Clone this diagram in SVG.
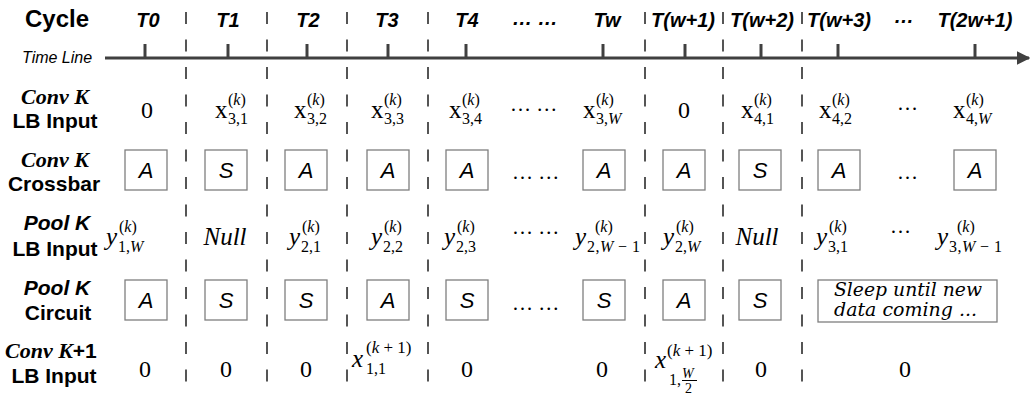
<svg xmlns="http://www.w3.org/2000/svg" width="1031" height="397" viewBox="0 0 1031 397">
<style>
.lbs{font:bold 21px "Liberation Sans",Arial,sans-serif;text-anchor:middle}
.lbi{font:bold italic 22px "Liberation Serif","Times New Roman",serif}
.pk{font:bold italic 21px "Liberation Sans",Arial,sans-serif;text-anchor:middle}
.hd{font:bold italic 20px "Liberation Sans",Arial,sans-serif;text-anchor:middle}
.m{font:25px "Liberation Serif","Times New Roman",serif}
.mc{font:24px "Liberation Serif","Times New Roman",serif;text-anchor:middle}
.mi{font:italic 25px "Liberation Serif","Times New Roman",serif}
.nl{font:italic 25px "Liberation Serif","Times New Roman",serif;text-anchor:middle}
.s{font:16px "Liberation Serif","Times New Roman",serif}
.it{font-style:italic}
.dt{font:21px "Liberation Serif","Times New Roman",serif}
.box{fill:#fff;stroke:#7f7f7f;stroke-width:1.3}
.bl{font:italic 22px "Liberation Sans",Arial,sans-serif;text-anchor:middle}
.dash{stroke:#555;stroke-width:2;stroke-dasharray:12 15.5;fill:none}
.tl{stroke:#404040;stroke-width:3;fill:none}
.slp{font:italic 18px "DejaVu Serif",serif}
</style>
<defs>
<marker id="arr" viewBox="0 0 10 10" refX="9" refY="5" markerWidth="4.5" markerHeight="4.5" orient="auto" markerUnits="strokeWidth">
<path d="M0,0 L10,5 L0,10 z" fill="#404040"/>
</marker>
</defs>
<rect width="1031" height="397" fill="#fff"/>

<g id="connectors">
<line class="tl" x1="105" y1="58" x2="1029" y2="58" marker-end="url(#arr)"/>
<g class="tl">
<line x1="145" y1="44" x2="145" y2="58"/><line x1="228" y1="44" x2="228" y2="58"/>
<line x1="307" y1="44" x2="307" y2="58"/><line x1="388" y1="44" x2="388" y2="58"/>
<line x1="466" y1="44" x2="466" y2="58"/><line x1="603" y1="44" x2="603" y2="58"/>
<line x1="685" y1="44" x2="685" y2="58"/><line x1="761" y1="44" x2="761" y2="58"/>
<line x1="838" y1="44" x2="838" y2="58"/><line x1="975" y1="44" x2="975" y2="58"/>
</g>
<line class="dash" x1="186" y1="12" x2="186" y2="397"/>
<line class="dash" x1="267" y1="12" x2="267" y2="385"/>
<line class="dash" x1="347" y1="12" x2="347" y2="385"/>
<line class="dash" x1="428" y1="12" x2="428" y2="385"/>
<line class="dash" x1="645" y1="12" x2="645" y2="385"/>
<line class="dash" x1="723" y1="12" x2="723" y2="385"/>
<line class="dash" x1="802" y1="12" x2="802" y2="385"/>
</g>

<g id="header">
<text x="25" y="27" style="font:bold 24px 'Liberation Sans',Arial,sans-serif">Cycle</text>
<text x="22" y="63" style="font:italic 16px 'Liberation Sans',Arial,sans-serif">Time Line</text>
<text class="hd" x="148" y="27">T0</text>
<text class="hd" x="228" y="27">T1</text>
<text class="hd" x="308" y="27">T2</text>
<text class="hd" x="387" y="27">T3</text>
<text class="hd" x="467" y="27">T4</text>
<text class="hd" x="535" y="25">… …</text>
<text class="hd" x="607" y="27">Tw</text>
<text class="hd" x="683" y="27">T(w+1)</text>
<text class="hd" x="762" y="27">T(w+2)</text>
<text class="hd" x="839" y="27">T(w+3)</text>
<text class="hd" x="904" y="23">…</text>
<text class="hd" x="975" y="27">T(2w+1)</text>
</g>

<g id="row-labels">
<g id="lbl-conv-lb"><text class="lbi" x="21" y="104">Conv K</text><text class="lbs" x="55" y="128">LB Input</text></g>
<g id="lbl-conv-xbar"><text class="lbi" x="21" y="167">Conv K</text><text class="lbs" x="54" y="191">Crossbar</text></g>
<g id="lbl-pool-lb"><text class="pk" x="57" y="230">Pool K</text><text class="lbs" x="55" y="256">LB Input</text></g>
<g id="lbl-pool-circ"><text class="pk" x="57" y="295">Pool K</text><text class="lbs" x="58" y="320">Circuit</text></g>
<g id="lbl-conv1-lb"><text x="5" y="358"><tspan class="lbi">Conv K</tspan><tspan style="font:bold 21px 'Liberation Sans',Arial,sans-serif">+1</tspan></text><text class="lbs" x="54" y="383">LB Input</text></g>
</g>

<g id="row1">
<text class="mc" x="147" y="118">0</text>
<g id="r1c1"><text class="m" x="215" y="118">x</text><text class="s" x="228" y="105">(<tspan class="it">k</tspan>)</text><text class="s" x="228" y="124">3,1</text></g>
<g id="r1c2"><text class="m" x="294" y="118">x</text><text class="s" x="307" y="105">(<tspan class="it">k</tspan>)</text><text class="s" x="307" y="124">3,2</text></g>
<g id="r1c3"><text class="m" x="371" y="118">x</text><text class="s" x="384" y="105">(<tspan class="it">k</tspan>)</text><text class="s" x="384" y="124">3,3</text></g>
<g id="r1c4"><text class="m" x="449" y="118">x</text><text class="s" x="462" y="105">(<tspan class="it">k</tspan>)</text><text class="s" x="462" y="124">3,4</text></g>
<text class="dt" x="510" y="111">… …</text>
<g id="r1cw"><text class="m" x="583" y="118">x</text><text class="s" x="596" y="105">(<tspan class="it">k</tspan>)</text><text class="s" x="596" y="124">3,<tspan class="it">W</tspan></text></g>
<text class="mc" x="684" y="118">0</text>
<g id="r1cw2"><text class="m" x="741" y="118">x</text><text class="s" x="754" y="105">(<tspan class="it">k</tspan>)</text><text class="s" x="754" y="124">4,1</text></g>
<g id="r1cw3"><text class="m" x="819" y="118">x</text><text class="s" x="832" y="105">(<tspan class="it">k</tspan>)</text><text class="s" x="832" y="124">4,2</text></g>
<text class="dt" x="897" y="110">…</text>
<g id="r1c2w"><text class="m" x="953" y="118">x</text><text class="s" x="966" y="105">(<tspan class="it">k</tspan>)</text><text class="s" x="966" y="124">4,<tspan class="it">W</tspan></text></g>
</g>

<g id="row2">
<g id="r2c0"><rect class="box" x="125" y="150" width="42" height="40"/><text class="bl" x="146" y="178">A</text></g>
<g id="r2c1"><rect class="box" x="205" y="150" width="42" height="40"/><text class="bl" x="226" y="178">S</text></g>
<g id="r2c2"><rect class="box" x="285" y="150" width="42" height="40"/><text class="bl" x="306" y="178">A</text></g>
<g id="r2c3"><rect class="box" x="367" y="150" width="42" height="40"/><text class="bl" x="388" y="178">A</text></g>
<g id="r2c4"><rect class="box" x="446" y="150" width="42" height="40"/><text class="bl" x="467" y="178">A</text></g>
<text class="dt" x="512" y="179">… …</text>
<g id="r2cw"><rect class="box" x="583" y="150" width="42" height="40"/><text class="bl" x="604" y="178">A</text></g>
<g id="r2cw1"><rect class="box" x="663" y="150" width="42" height="40"/><text class="bl" x="684" y="178">A</text></g>
<g id="r2cw2"><rect class="box" x="739" y="150" width="42" height="40"/><text class="bl" x="760" y="178">S</text></g>
<g id="r2cw3"><rect class="box" x="818" y="150" width="42" height="40"/><text class="bl" x="839" y="178">A</text></g>
<text class="dt" x="897" y="179">…</text>
<g id="r2c2w"><rect class="box" x="954" y="150" width="42" height="40"/><text class="bl" x="975" y="178">A</text></g>
</g>

<g id="row3">
<g id="r3c0"><text class="mi" x="106" y="245">y</text><text class="s" x="119" y="232">(<tspan class="it">k</tspan>)</text><text class="s" x="118" y="252">1,<tspan class="it">W</tspan></text></g>
<text class="nl" x="225" y="245">Null</text>
<g id="r3c2"><text class="mi" x="289" y="245">y</text><text class="s" x="302" y="232">(<tspan class="it">k</tspan>)</text><text class="s" x="301" y="252">2,1</text></g>
<g id="r3c3"><text class="mi" x="371" y="245">y</text><text class="s" x="384" y="232">(<tspan class="it">k</tspan>)</text><text class="s" x="383" y="252">2,2</text></g>
<g id="r3c4"><text class="mi" x="444" y="245">y</text><text class="s" x="457" y="232">(<tspan class="it">k</tspan>)</text><text class="s" x="456" y="252">2,3</text></g>
<text class="dt" x="512" y="234">… …</text>
<g id="r3cw"><text class="mi" x="575" y="245">y</text><text class="s" x="595" y="232">(<tspan class="it">k</tspan>)</text><text class="s" x="587" y="252" textLength="53" lengthAdjust="spacing">2,<tspan class="it">W</tspan> − 1</text></g>
<g id="r3cw1"><text class="mi" x="663" y="245">y</text><text class="s" x="676" y="232">(<tspan class="it">k</tspan>)</text><text class="s" x="675" y="252">2,<tspan class="it">W</tspan></text></g>
<text class="nl" x="757" y="245">Null</text>
<g id="r3cw3"><text class="mi" x="816" y="245">y</text><text class="s" x="829" y="232">(<tspan class="it">k</tspan>)</text><text class="s" x="828" y="252">3,1</text></g>
<text class="dt" x="890" y="233">…</text>
<g id="r3c2w"><text class="mi" x="937" y="245">y</text><text class="s" x="957" y="232">(<tspan class="it">k</tspan>)</text><text class="s" x="949" y="252" textLength="53" lengthAdjust="spacing">3,<tspan class="it">W</tspan> − 1</text></g>
</g>

<g id="row4">
<g id="r4c0"><rect class="box" x="125" y="280" width="42" height="40"/><text class="bl" x="146" y="308">A</text></g>
<g id="r4c1"><rect class="box" x="205" y="280" width="42" height="40"/><text class="bl" x="226" y="308">S</text></g>
<g id="r4c2"><rect class="box" x="285" y="280" width="42" height="40"/><text class="bl" x="306" y="308">S</text></g>
<g id="r4c3"><rect class="box" x="367" y="280" width="42" height="40"/><text class="bl" x="388" y="308">A</text></g>
<g id="r4c4"><rect class="box" x="446" y="280" width="42" height="40"/><text class="bl" x="467" y="308">S</text></g>
<text class="dt" x="512" y="310">… …</text>
<g id="r4cw"><rect class="box" x="583" y="280" width="42" height="40"/><text class="bl" x="604" y="308">S</text></g>
<g id="r4cw1"><rect class="box" x="663" y="280" width="42" height="40"/><text class="bl" x="684" y="308">A</text></g>
<g id="r4cw2"><rect class="box" x="739" y="280" width="42" height="40"/><text class="bl" x="760" y="308">S</text></g>
<g id="r4sleep"><rect class="box" x="818" y="280" width="179" height="42"/>
<text class="slp" x="834" y="296" textLength="148" lengthAdjust="spacingAndGlyphs">Sleep until new</text>
<text class="slp" x="834" y="316" textLength="143" lengthAdjust="spacingAndGlyphs">data coming ...</text></g>
</g>

<g id="row5">
<text class="mc" x="145" y="377">0</text>
<text class="mc" x="226" y="377">0</text>
<text class="mc" x="306" y="377">0</text>
<g id="r5c3"><text class="mi" x="352" y="367">x</text><text class="s" x="366" y="353" style="font-size:17px">(<tspan class="it">k</tspan> + 1)</text><text class="s" x="366" y="374">1,1</text></g>
<text class="mc" x="467" y="377">0</text>
<text class="mc" x="602" y="377">0</text>
<g id="r5cw1"><text class="mi" x="655" y="368">x</text><text class="s" x="667" y="356" style="font-size:17px">(<tspan class="it">k</tspan> + 1)</text>
<text class="s" x="669" y="385">1,</text>
<text class="s it" x="682" y="378" style="font-size:14px">W</text>
<line x1="682" y1="380.5" x2="697" y2="380.5" stroke="#000" stroke-width="1"/>
<text class="s" x="685" y="393" style="font-size:14px">2</text></g>
<text class="mc" x="761" y="377">0</text>
<text class="mc" x="905" y="377">0</text>
</g>
</svg>
